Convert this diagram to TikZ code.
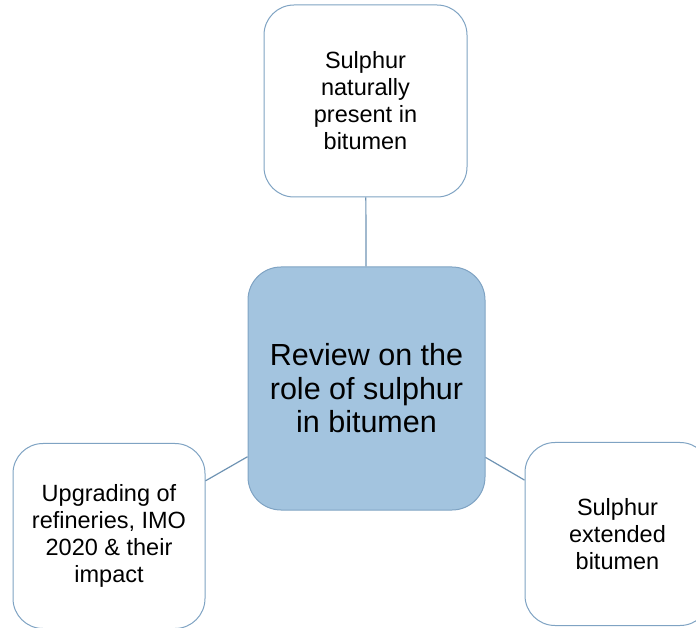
\documentclass[tikz,border=0pt]{standalone}
\usepackage{fontspec}
\setmainfont{Liberation Sans}
\definecolor{boxline}{HTML}{7FA3C3}
\definecolor{linkline}{HTML}{6E93B3}
\definecolor{centerfill}{HTML}{A3C4DF}
\begin{document}
\begin{tikzpicture}[x=1pt,y=1pt,
  outerbox/.style={draw=boxline, line width=1pt, fill=white, rounded corners=30pt,
    align=center, inner sep=0pt, font=\fontsize{23.5}{27}\selectfont},
  centerbox/.style={draw=boxline, line width=1pt, fill=centerfill, rounded corners=33pt,
    align=center, inner sep=0pt, font=\fontsize{30.5}{33.5}\selectfont},
  link/.style={draw=linkline, line width=1.2pt}]
\useasboundingbox (0,0) rectangle (696,627);
\clip (0,0) rectangle (696,627);
\node[centerbox, minimum width=237pt, minimum height=243pt] (c) at (366.5,238.5)
  {Review on the\\role of sulphur\\in bitumen};
\node[outerbox, minimum width=203pt, minimum height=192pt] (t) at (365.5,526)
  {Sulphur\\naturally\\present in\\bitumen};
\node[outerbox, minimum width=192pt, minimum height=185pt] (l) at (109,91)
  {Upgrading of\\refineries, IMO\\2020 \& their\\impact};
\node[outerbox, minimum width=185pt, minimum height=183pt] (r) at (617.5,93)
  {Sulphur\\extended\\bitumen};
\draw[link] (t) -- (c);
\draw[link] (c) -- (l);
\draw[link] (c) -- (r);
\end{tikzpicture}
\end{document}
